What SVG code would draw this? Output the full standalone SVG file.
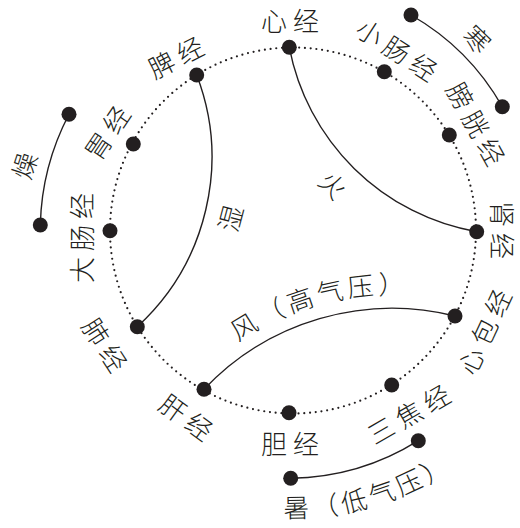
<svg xmlns="http://www.w3.org/2000/svg" width="520" height="528" viewBox="0 0 520 528">
  <style>
    .bg { fill: #ffffff; }
    .ring { fill: none; stroke: #231f20; stroke-width: 2.2; stroke-dasharray: 0 5.75; stroke-linecap: round; }
    .link { fill: none; stroke: #231f20; stroke-width: 1.4; }
    .dot { fill: #231f20; }
    .lbl { font-family: "Noto Sans CJK SC", "Noto Sans CJK JP", sans-serif; font-size: 26px; font-weight: 300; fill: #231f20; text-anchor: middle; dominant-baseline: central; letter-spacing: 6px; }
    .one { letter-spacing: 0; }
    .arc { font-family: "Noto Sans CJK SC", "Noto Sans CJK JP", sans-serif; font-size: 26px; font-weight: 300; fill: #231f20; text-anchor: middle; letter-spacing: 4px; }
  </style>
  <defs>
    <path id="windPath" d="M197.5,376.1 A273,273 0 0 1 460.6,303.1"/>
    <path id="heatPath" d="M224.1,509.1 A287,287 0 0 0 499.8,429.5"/>
  </defs>
  <rect class="bg" x="0" y="0" width="520" height="528"/>
  <circle class="ring" cx="293" cy="230.5" r="183"/>

  <g id="connectors">
    <path id="fire" class="link" d="M289.3,47.3 A231.7,231.7 0 0 0 476.7,231.7"/>
    <path id="damp" class="link" d="M196.7,75 A230,230 0 0 1 137.3,326.7"/>
    <path id="wind" class="link" d="M204,389.3 A259,259 0 0 1 455,316"/>
    <path id="cold" class="link" d="M411,15 A245,245 0 0 1 502.3,106.7"/>
    <path id="dry" class="link" d="M69,114.3 A252,252 0 0 0 40.3,225"/>
    <path id="heat" class="link" d="M290.7,478.3 A246,246 0 0 0 418.3,440.7"/>
    <text class="lbl one" transform="translate(334,184) rotate(45)">火</text>
    <text class="lbl one" transform="translate(229,218) rotate(-75)">湿</text>
    <text class="lbl one" transform="translate(478,38) rotate(44)">寒</text>
    <text class="lbl one" transform="translate(23,165) rotate(-72)">燥</text>
    <text class="arc"><textPath href="#windPath" startOffset="50%">风（高气压）</textPath></text>
    <text class="arc"><textPath href="#heatPath" startOffset="50%">暑（低气压）</textPath></text>
  </g>

  <g id="xin">
    <circle class="dot" cx="289.3" cy="47.3" r="7.5"/>
    <text class="lbl" x="3" transform="translate(290,19)">心经</text>
  </g>
  <g id="xiaochang">
    <circle class="dot" cx="384.3" cy="71.7" r="7.5"/>
    <text class="lbl" x="3" transform="translate(397.5,48.5) rotate(33)">小肠经</text>
  </g>
  <g id="pangguang">
    <circle class="dot" cx="449.3" cy="135" r="7.5"/>
    <text class="lbl" x="3" transform="translate(477,123) rotate(61)">膀胱经</text>
  </g>
  <g id="shen">
    <circle class="dot" cx="476.7" cy="231.7" r="7.5"/>
    <text class="lbl" x="3" transform="translate(503,230) rotate(90)">肾经</text>
  </g>
  <g id="xinbao">
    <circle class="dot" cx="455" cy="316" r="7.5"/>
    <text class="lbl" x="3" transform="translate(483,331) rotate(-65)">心包经</text>
  </g>
  <g id="sanjiao">
    <circle class="dot" cx="391.7" cy="385" r="7.5"/>
    <text class="lbl" x="3" transform="translate(408,413) rotate(-30)">三焦经</text>
  </g>
  <g id="dan">
    <circle class="dot" cx="289" cy="412.7" r="7.5"/>
    <text class="lbl" x="3" transform="translate(290,442)">胆经</text>
  </g>
  <g id="gan">
    <circle class="dot" cx="204" cy="389.3" r="7.5"/>
    <text class="lbl" x="3" transform="translate(187,416) rotate(36)">肝经</text>
  </g>
  <g id="fei">
    <circle class="dot" cx="137.3" cy="326.7" r="7.5"/>
    <text class="lbl" x="3" transform="translate(106,344) rotate(57)">肺经</text>
  </g>
  <g id="dachang">
    <circle class="dot" cx="110" cy="230.7" r="7.5"/>
    <text class="lbl" x="3" transform="translate(80.5,238) rotate(-90)">大肠经</text>
  </g>
  <g id="wei">
    <circle class="dot" cx="133.3" cy="144" r="7.5"/>
    <text class="lbl" x="3" transform="translate(106,132) rotate(-56)">胃经</text>
  </g>
  <g id="pi">
    <circle class="dot" cx="196.7" cy="75" r="7.5"/>
    <text class="lbl" x="3" transform="translate(175,56) rotate(-27)">脾经</text>
  </g>
  <g id="cold-a"><circle class="dot" cx="411" cy="15" r="7.5"/></g>
  <g id="cold-b"><circle class="dot" cx="502.3" cy="106.7" r="7.5"/></g>
  <g id="dry-a"><circle class="dot" cx="69" cy="114.3" r="7.5"/></g>
  <g id="dry-b"><circle class="dot" cx="40.3" cy="225" r="7.5"/></g>
  <g id="heat-a"><circle class="dot" cx="290.7" cy="478.3" r="7.5"/></g>
  <g id="heat-b"><circle class="dot" cx="418.3" cy="440.7" r="7.5"/></g>
</svg>
